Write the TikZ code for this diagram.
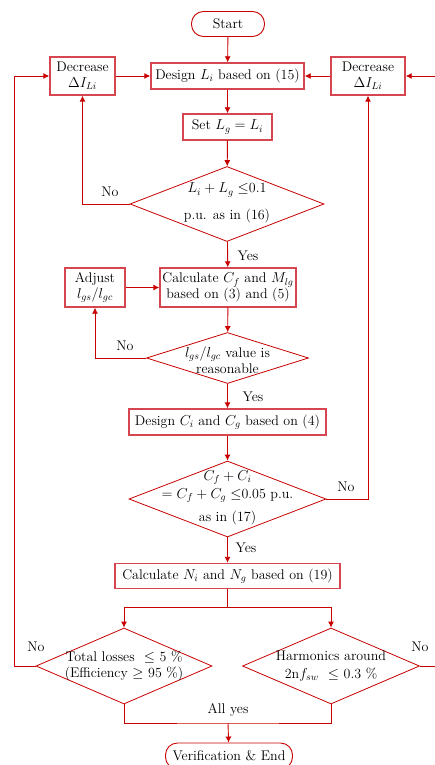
\documentclass[tikz,border=0pt]{standalone}
\usepackage{amsmath}
\usepackage{amssymb}
\usepackage{tikz}
\usetikzlibrary{shapes.geometric, arrows.meta}
\definecolor{flowred}{RGB}{200,0,0}
\definecolor{boxred}{RGB}{214,70,80}

\begin{document}
\begin{tikzpicture}[x=1pt, y=-1pt,
    every node/.style={font=\fontsize{14}{15.5}\selectfont, align=center},
    proc/.style={rectangle, draw=boxred, line width=1.4pt, inner sep=1pt},
    term/.style={rectangle, rounded corners=12pt, draw=flowred, line width=0.9pt},
    decision/.style={diamond, draw=flowred, line width=0.8pt, inner sep=0pt},
    flow/.style={draw=flowred, line width=0.9pt, -{Latex[length=6pt,width=6pt]}}
]
\useasboundingbox (0,0) rectangle (435,765);

% main column
\node[term, minimum width=73, minimum height=25] (start) at (228,24) {Start};
\node[proc, minimum width=153, minimum height=26] (li) at (227.5,76) {Design $L_i$ based on (15)};
\node[proc, minimum width=65, minimum height=38] (decl) at (82.5,76) {Decrease\\$\Delta I_{Li}$};
\node[proc, minimum width=74, minimum height=38] (decr) at (368,76) {Decrease\\$\Delta I_{Li}$};
\node[proc, minimum width=89, minimum height=26] (setlg) at (227.5,127) {Set $L_g = L_i$};
\node[decision, minimum width=194, minimum height=75] (dl) at (227,204) {};
\node (dltext) at (227,203) {$L_i + L_g \leq$0.1\\[11pt]p.u. as in (16)};
\node[proc, minimum width=136, minimum height=39] (cf) at (228,287.5) {Calculate $C_f$ and $M_{lg}$\\based on (3) and (5)};
\node[proc, minimum width=60, minimum height=39] (adj) at (95,287.5) {Adjust\\$l_{gs}/l_{gc}$};
\node[decision, minimum width=162, minimum height=51] (dr) at (227.5,358) {};
\node (drtext) at (227.5,360) {$l_{gs}/l_{gc}$ value is\\reasonable};
\node[proc, minimum width=197, minimum height=26] (ci) at (227.5,422) {Design $C_i$ and $C_g$ based on (4)};
\node[decision, minimum width=197, minimum height=76] (dc) at (227.5,499) {};
\node (dctext) at (227.5,498) {$C_f + C_i$\\[2pt]$= C_f + C_g \leq$0.05 p.u.\\[8pt]as in (17)};
\node[proc, minimum width=225, minimum height=25] (ni) at (227.5,576) {Calculate $N_i$ and $N_g$ based on (19)};
\node[decision, minimum width=176, minimum height=76] (dloss) at (124,666) {};
\node (dlosstext) at (124,666) {Total losses \ $\leq$ 5 \%\\(Efficiency $\geq$ 95 \%)};
\node[decision, minimum width=177, minimum height=76] (dharm) at (331,666) {};
\node (dharmtext) at (331,666) {Harmonics around\\[2pt]2n$f_{sw}$ \ $\leq$ 0.3 \%};
\node[term, minimum width=127, minimum height=26] (end) at (229,756) {Verification \& End};

% labels
\node (no1) at (110,192) {No};
\node (yes1) at (248,256) {Yes};
\node (no2) at (125,346) {No};
\node (yes2) at (253,397) {Yes};
\node (no3) at (346,487) {No};
\node (yes3) at (246,548) {Yes};
\node (no4) at (36,647) {No};
\node (no5) at (420,647) {No};
\node (allyes) at (228,710) {All yes};

\coordinate (split) at (227.5,607.5);
\coordinate (join) at (228,723);
\coordinate (lloop) at (14,666);
\coordinate (rloop) at (440,666);

\draw[flow] (start) -- (li);
\draw[flow] (li) -- (setlg);
\draw[flow] (setlg) -- (dl);
\draw[flow] (decl) -- (li);
\draw[flow] (decr) -- (li);
\draw[flow] (dl.west) -| (decl.south);
\draw[flow] (dl) -- (cf);
\draw[flow] (adj) -- (cf);
\draw[flow] (cf) -- (dr);
\draw[flow] (dr.west) -| (adj.south);
\draw[flow] (dr) -- (ci);
\draw[flow] (ci) -- (dc);
\draw[flow] (dc.east) -| (decr.south);
\draw[flow] (dc) -- (ni);
\draw[flow, -] (ni) -- (split);
\draw[flow] (split) -| (dloss.north);
\draw[flow] (split) -| (dharm.north);
\draw[flow] (dloss.west) -- (lloop) |- (decl.west);
\draw[flow] (dharm.east) -- (rloop) |- (decr.east);
\draw[flow, -] (dloss.south) |- (join) -| (dharm.south);
\draw[flow] (join) -- (end);
\end{tikzpicture}
\end{document}
